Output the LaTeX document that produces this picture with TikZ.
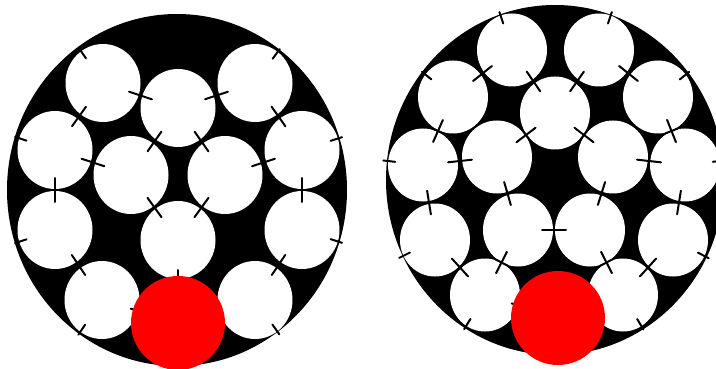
\documentclass[tikz,border=0pt]{standalone}
\usepackage{tikz}
\usetikzlibrary{calc}

\begin{document}
\begin{tikzpicture}[
  x=1pt,y=-1pt,
  hull/.style={fill=black},
  wire/.style={fill=white},
  touch/.style={line width=2pt,line cap=round},
  core/.style={fill=red}
]
\useasboundingbox (0,0) rectangle (716,369);
\coordinate (hl) at (177,190);
\coordinate (hr) at (555,180);
\fill[hull] (hl) ellipse [x radius=170, y radius=176];
\fill[hull] (hr) ellipse [x radius=169, y radius=175];
\foreach \n/\x/\y in {l1/103/83, l2/178/108, l3/255/83, l4/55/150, l5/131/175, l6/225/175,
  l7/302/150, l8/55/230, l9/178/240, l10/302/230, l11/102/300, l12/255/300}
  \coordinate (\n) at (\x,\y);
\foreach \n/\x/\y in {r1/512/50, r2/599/50, r3/453/97, r4/555/113, r5/658/97, r6/423/165,
  r7/497/157, r8/613/157, r9/685/165, r10/435/240, r11/518/230, r12/590/230, r13/673/240,
  r14/485/295, r15/623/295}
  \coordinate (\n) at (\x,\y);
\coordinate (lc) at (178,323);
\coordinate (rc) at (558,318);
\foreach \n in {l1,l2,l3,l4,l5,l6,l7,l8,l9,l10,l11,l12}
  \fill[wire] (\n) ellipse [x radius=37.5, y radius=39];
\foreach \n in {r1,r2,r3,r4,r5,r6,r7,r8,r9,r10,r11,r12,r13,r14,r15}
  \fill[wire] (\n) ellipse [x radius=35, y radius=36.5];
\foreach \p/\q in {l1/l2, l2/l3, l1/l4, l3/l7, l2/l5, l2/l6, l4/l5, l6/l7, l4/l8, l7/l10,
  l5/l9, l6/l9, l8/l11, l10/l12, r1/r3, r1/r4, r2/r4, r2/r5, r3/r6, r4/r7, r4/r8, r5/r9,
  r6/r7, r8/r9, r6/r10, r7/r11, r8/r12, r9/r13, r11/r12, r10/r14, r11/r14, r12/r15, r13/r15}{
  \coordinate (m) at ($(\p)!0.5!(\q)$);
  \draw[touch] ($(m)!12pt!(\p)$) -- ($(m)!12pt!(\q)$);
  \draw[touch] ($(m)!7pt!90:(\p)$) -- ($(m)!7pt!-90:(\p)$);
}
\foreach \p in {l1,l3,l4,l7,l8,l10,l11,l12}
  \draw[touch] ($(\p)!-42pt!(hl)$) -- ($(\p)!-30pt!(hl)$);
\foreach \p in {r1,r2,r3,r5,r6,r9,r10,r13,r14,r15}
  \draw[touch] ($(\p)!-40pt!(hr)$) -- ($(\p)!-28pt!(hr)$);
\draw[touch] ($(l11)!30pt!(lc)$) -- ($(l11)!41pt!(lc)$);
\draw[touch] ($(l9)!30pt!(lc)$) -- ($(l9)!41pt!(lc)$);
\draw[touch] ($(r14)!28pt!(rc)$) -- ($(r14)!39pt!(rc)$);
\fill[core] (lc) circle [radius=47];
\fill[core] (rc) circle [radius=47];
\end{tikzpicture}
\end{document}
